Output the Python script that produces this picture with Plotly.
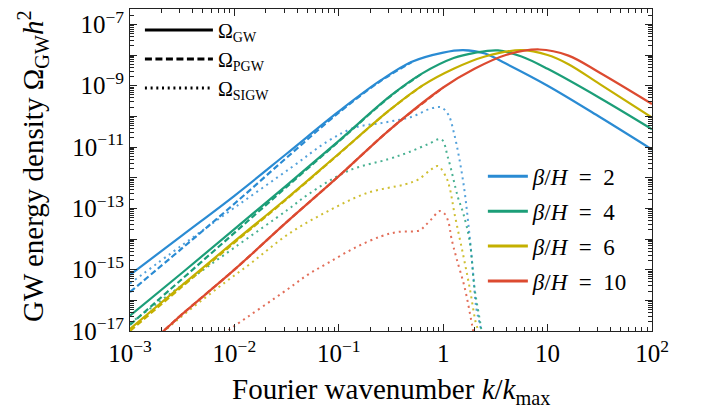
import numpy as np
import plotly.graph_objects as go

# ---------------- data (log10 values) ----------------
NB = "\u00a0"
beta_labels = ["<i>β</i>/<i>H</i>" + NB + " =" + NB + " 2", "<i>β</i>/<i>H</i>" + NB + " =" + NB + " 4",
               "<i>β</i>/<i>H</i>" + NB + " =" + NB + " 6", "<i>β</i>/<i>H</i>" + NB + " =" + NB + " 10"]
colors = ["#2a8bd3", "#1c9e78", "#c4b000", "#dc4a30"]

# total GW (solid)
lk_gw_2 = [-3, -2.5, -2, -1.5, -1, -0.6, -0.3, 0, 0.19, 0.4, 0.6, 1, 1.5, 2]
lo_gw_2 = [-15.17, -13.88, -12.59, -11.22, -9.84, -8.83, -8.22, -7.92, -7.84, -7.95, -8.28, -9.0, -10.02, -11.08]
lk_gw_4 = [-3, -2.5, -2, -1.5, -1, -0.5, -0.2, 0.1, 0.3, 0.525, 0.75, 1.0, 1.5, 2]
lo_gw_4 = [-16.5, -15.1, -13.68, -12.25, -10.8, -9.32, -8.6, -8.1, -7.93, -7.85, -8.05, -8.45, -9.4, -10.42]
lk_gw_6 = [-3, -2.5, -2, -1.5, -1, -0.5, -0.2, 0.1, 0.4, 0.75, 1.0, 1.2, 1.5, 2]
lo_gw_6 = [-16.93, -15.5, -14.08, -12.68, -11.22, -9.76, -9.0, -8.45, -8.05, -7.84, -8.0, -8.3, -8.95, -10.04]
lk_gw_10 = [-3, -2.68, -2.5, -2, -1.5, -1, -0.5, 0, 0.3, 0.6, 0.92, 1.2, 1.5, 2]
lo_gw_10 = [-17.9, -17.0, -16.45, -15.0, -13.45, -11.95, -10.4, -9.06, -8.45, -8.0, -7.82, -8.02, -8.58, -9.6]

# primordial GW (dashed)
lk_pgw_2 = [-3, -2.5, -2, -1.5, -1, -0.6, -0.3]
lo_pgw_2 = [-15.73, -14.3, -12.85, -11.35, -9.88, -8.85, -8.23]
lk_pgw_4 = [-3, -2.5, -2, -1.5, -1, -0.5, -0.2]
lo_pgw_4 = [-16.8, -15.3, -13.8, -12.3, -10.82, -9.33, -8.6]
lk_pgw_6 = [-3, -2.5, -2, -1.5, -1, -0.5, -0.2]
lo_pgw_6 = [-17.0, -15.55, -14.12, -12.7, -11.23, -9.76, -9.0]
lk_pgw_10 = [-3, -2.68, -2.5, -2, -1.5, -1, -0.5, 0]
lo_pgw_10 = [-17.9, -17.0, -16.45, -15.0, -13.45, -11.95, -10.4, -9.06]

# scalar-induced GW (dotted)
lk_sigw_2 = [-3, -2.5, -2, -1.455, -1.1, -0.848, -0.56, -0.306, -0.114, -0.018, 0.05, 0.1, 0.15, 0.2, 0.238, 0.285, 0.317, 0.365, 0.4]
lo_sigw_2 = [-15.45, -14.2, -12.98, -11.67, -10.80, -10.37, -10.20, -10.02, -9.74, -9.71, -9.95, -10.5, -11.3, -12.33, -13.42, -15.05, -16.25, -17.0, -18.0]
lk_sigw_4 = [-3, -2.5, -2, -1.487, -1.295, -0.912, -0.529, -0.337, -0.146, -0.018, 0.046, 0.142, 0.19, 0.254, 0.30, 0.365, 0.4]
lo_sigw_4 = [-16.75, -15.5, -14.28, -13.04, -12.55, -11.78, -11.40, -11.18, -10.91, -10.75, -11.35, -12.65, -13.14, -14.07, -15.6, -16.96, -18.0]
lk_sigw_6 = [-2.8, -2.668, -2.157, -1.838, -1.487, -1.103, -0.72, -0.369, -0.241, -0.114, -0.05, 0.03, 0.062, 0.11, 0.19, 0.254, 0.317, 0.34, 0.38]
lo_sigw_6 = [-17.5, -17.0, -15.59, -14.78, -13.85, -13.09, -12.49, -12.22, -12.06, -11.73, -11.62, -12.0, -12.33, -13.2, -14.5, -15.6, -16.8, -17.0, -18.0]
lk_sigw_10 = [-2.2, -2.07, -1.98, -1.487, -1.295, -1.103, -0.848, -0.593, -0.433, -0.225, -0.178, -0.114, -0.034, 0.014, 0.052, 0.078, 0.126, 0.206, 0.27, 0.285, 0.32]
lo_sigw_10 = [-17.3, -17.0, -16.79, -15.63, -15.16, -14.78, -14.29, -13.91, -13.77, -13.72, -13.58, -13.36, -13.09, -13.18, -13.47, -13.96, -14.61, -15.59, -16.68, -16.96, -18.0]

x_tickvals = [1e-3, 1e-2, 1e-1, 1, 10, 100]
x_ticktext = ["10<sup>−3</sup>", "10<sup>−2</sup>", "10<sup>−1</sup>", "1", "10", "10<sup>2</sup>"]
y_decades = [-17, -16, -15, -14, -13, -12, -11, -10, -9, -8, -7]
y_ticktext = ["10<sup>−17</sup>", "", "10<sup>−15</sup>", "", "10<sup>−13</sup>", "", "10<sup>−11</sup>", "", "10<sup>−9</sup>", "", "10<sup>−7</sup>"]

FONT = "Liberation Serif"

def p(v):
    return np.power(10.0, np.array(v, dtype=float))

fig = go.Figure()

gw = [(lk_gw_2, lo_gw_2), (lk_gw_4, lo_gw_4), (lk_gw_6, lo_gw_6), (lk_gw_10, lo_gw_10)]
pgw = [(lk_pgw_2, lo_pgw_2), (lk_pgw_4, lo_pgw_4), (lk_pgw_6, lo_pgw_6), (lk_pgw_10, lo_pgw_10)]
sigw = [(lk_sigw_2, lo_sigw_2), (lk_sigw_4, lo_sigw_4), (lk_sigw_6, lo_sigw_6), (lk_sigw_10, lo_sigw_10)]

for i in range(4):
    fig.add_trace(go.Scatter(x=p(sigw[i][0]), y=p(sigw[i][1]), mode="lines", line_shape="spline",
                             line=dict(color=colors[i], width=2, dash="2px,4px"), opacity=0.8,
                             showlegend=False, hoverinfo="skip"))
for i in range(4):
    fig.add_trace(go.Scatter(x=p(gw[i][0]), y=p(gw[i][1]), mode="lines", line_shape="spline",
                             line=dict(color=colors[i], width=2.2), showlegend=False, hoverinfo="skip"))
    fig.add_trace(go.Scatter(x=p(pgw[i][0]), y=p(pgw[i][1]), mode="lines", line_shape="spline",
                             line=dict(color=colors[i], width=2.2, dash="6px,3px"), showlegend=False, hoverinfo="skip"))

# legend 1 (line styles)
for name, dash in [("Ω<sub>GW</sub>", "solid"), ("Ω<sub>PGW</sub>", "7px,3.5px"), ("Ω<sub>SIGW</sub>", "2px,3.7px")]:
    fig.add_trace(go.Scatter(x=[None], y=[None], mode="lines", name=name,
                             line=dict(color="black", width=3, dash=dash), legend="legend"))
# legend 2 (colors)
for i in range(4):
    fig.add_trace(go.Scatter(x=[None], y=[None], mode="lines", name=beta_labels[i],
                             legendgroup="g%d" % i,
                             line=dict(color=colors[i], width=3), legend="legend2"))

axis_common = dict(type="log", showline=True, linecolor="#222", linewidth=1, mirror="allticks",
                   ticks="inside", ticklen=7, tickcolor="#222", showgrid=False, zeroline=False,
                   automargin=False, ticklabeloverflow="allow",
                   tickfont=dict(family=FONT, size=25, color="black"))

fig.update_layout(
    width=704, height=410,
    margin=dict(l=122, r=60, t=1, b=87),
    paper_bgcolor="white", plot_bgcolor="white",
    font=dict(family=FONT, color="black"),
    xaxis=dict(**axis_common, range=[-3, 2], tickvals=x_tickvals, ticktext=x_ticktext,
               minor=dict(ticks="inside", ticklen=4, tickcolor="#222", dtick="D1", showgrid=False)),
    yaxis=dict(**axis_common, range=[-17, -6.5], tickvals=[10.0 ** d for d in y_decades], ticktext=y_ticktext,
               minor=dict(ticks="inside", ticklen=4, tickcolor="#222", dtick="D1", showgrid=False)),
    legend=dict(x=0.019, y=0.995, xanchor="left", yanchor="top", bgcolor="rgba(0,0,0,0)",
                font=dict(family=FONT, size=20), itemwidth=68, tracegroupgap=0),
    legend2=dict(x=0.676, y=0.547, xanchor="left", yanchor="top", bgcolor="rgba(0,0,0,0)",
                 font=dict(family=FONT, size=23), itemwidth=40, tracegroupgap=2, traceorder="grouped"),
    annotations=[
        dict(text="Fourier wavenumber <i>k</i>/<i>k</i><sub>max</sub>", xref="paper", yref="paper",
             x=0.5, y=-0.186, xanchor="center", yanchor="middle", showarrow=False,
             font=dict(family=FONT, size=29, color="black")),
        dict(text="GW energy density Ω<sub>GW</sub><i>h</i><sup>2</sup>", xref="paper", yref="paper",
             x=-0.186, y=0.512, xanchor="center", yanchor="middle", showarrow=False, textangle=-90,
             font=dict(family=FONT, size=29, color="black")),
    ],
)

fig.write_html("out.html")
